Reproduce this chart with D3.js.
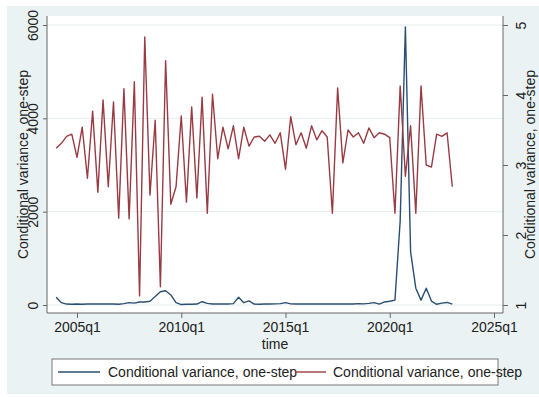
<!DOCTYPE html>
<html>
<head>
<meta charset="utf-8">
<script src="https://cdn.jsdelivr.net/npm/d3@7"></script>
<style>
  html, body { margin: 0; padding: 0; background: #ffffff; }
  svg { display: block; }
  text { font-family: "Liberation Sans", Arial, sans-serif; fill: #222; }
</style>
</head>
<body>
<svg id="chart" width="539" height="397"></svg>
<script>
// ---- data ----
const startYear = 2004;            // first observation: 2004q1
const nObs = 77;                   // 2004q1 .. 2023q1
const seriesLabels = ["Conditional variance, one-step", "Conditional variance, one-step"];
const xTickLabels = ["2005q1", "2010q1", "2015q1", "2020q1", "2025q1"];
const xTickYears = [2005, 2010, 2015, 2020, 2025];
const leftTicks = [0, 2000, 4000, 6000];
const rightTicks = [1, 2, 3, 4, 5];
const xTitle = "time";

// series 1 (left axis)
const variance1 = [165, 50, 20, 15, 20, 15, 20, 25, 20, 20,
                   25, 20, 15, 30, 50, 40, 65, 65, 80, 180,
                   285, 305, 215, 50, 10, 15, 15, 20, 70, 35,
                   20, 20, 25, 20, 30, 165, 50, 90, 20, 15,
                   20, 20, 25, 30, 50, 25, 20, 20, 20, 25,
                   20, 25, 20, 25, 20, 20, 25, 20, 30, 25,
                   35, 50, 20, 65, 80, 105, 1800, 5960, 1140, 360,
                   105, 360, 85, 15, 40, 55, 20];
// series 2 (right axis)
const variance2 = [3.24, 3.31, 3.41, 3.44, 3.11, 3.54, 2.81, 3.77, 2.61, 3.93,
                   2.69, 3.90, 2.24, 4.09, 2.23, 4.19, 1.13, 4.83, 2.57, 3.64,
                   1.26, 4.49, 2.44, 2.69, 3.70, 2.47, 3.83, 2.53, 3.97, 2.31,
                   4.01, 3.09, 3.54, 3.23, 3.56, 3.09, 3.54, 3.27, 3.40, 3.41,
                   3.34, 3.43, 3.31, 3.46, 2.94, 3.69, 3.29, 3.46, 3.24, 3.56,
                   3.36, 3.49, 3.40, 2.31, 4.10, 3.03, 3.50, 3.40, 3.46, 3.31,
                   3.53, 3.39, 3.46, 3.44, 3.39, 2.31, 4.13, 2.84, 3.56, 2.31,
                   4.13, 3.00, 2.97, 3.44, 3.41, 3.46, 2.69];

const times = d3.range(nObs).map(i => startYear + i / 4);

// ---- layout ----
const W = 539, H = 397;
const plot = { left: 47, right: 503, top: 16, bottom: 313 };
const col1 = "#2b4f72", col2 = "#9a3b43";

const svg = d3.select("#chart");

// graph region background
svg.append("rect").attr("x", 7).attr("y", 6).attr("width", W - 7).attr("height", 388)
   .attr("fill", "#eaf2f3");
// plot region
svg.append("rect").attr("x", plot.left).attr("y", plot.top)
   .attr("width", plot.right - plot.left).attr("height", plot.bottom - plot.top)
   .attr("fill", "#ffffff");

const x = d3.scaleLinear().domain([2003.561, 2025.432]).range([plot.left, plot.right]);
const yL = d3.scaleLinear().domain([-171.4, 6192.9]).range([plot.bottom, plot.top]);
const yR = d3.scaleLinear().domain([0.8857, 5.1286]).range([plot.bottom, plot.top]);

// gridlines
svg.append("g").selectAll("line").data(leftTicks).join("line")
   .attr("x1", plot.left).attr("x2", plot.right)
   .attr("y1", d => yL(d)).attr("y2", d => yL(d))
   .attr("stroke", "#e6ecee").attr("stroke-width", 1);

// lines
const line1 = d3.line().x((d, i) => x(times[i])).y(d => yL(d));
const line2 = d3.line().x((d, i) => x(times[i])).y(d => yR(d));
svg.append("path").datum(variance1).attr("d", line1)
   .attr("fill", "none").attr("stroke", col1).attr("stroke-width", 1.4)
   .attr("stroke-linejoin", "round");
svg.append("path").datum(variance2).attr("d", line2)
   .attr("fill", "none").attr("stroke", col2).attr("stroke-width", 1.4)
   .attr("stroke-linejoin", "round");

// axes
const axisCol = "#666";
function styleAxis(g) {
  g.select(".domain").remove();
  g.selectAll(".tick line").attr("stroke", axisCol);
  g.selectAll(".tick text").attr("fill", "#222").style("font-size", "14px")
   .style("font-family", "'Liberation Sans', Arial, sans-serif");
}

// bottom axis
const gx = svg.append("g").attr("transform", `translate(0,${plot.bottom})`)
  .call(d3.axisBottom(x).tickValues(xTickYears)
        .tickFormat((d, i) => xTickLabels[i]).tickSize(5).tickPadding(4));
styleAxis(gx);
gx.selectAll(".tick text").attr("dy", "0.71em");

// left axis
const gl = svg.append("g").attr("transform", `translate(${plot.left},0)`)
  .call(d3.axisLeft(yL).tickValues(leftTicks).tickSize(4).tickFormat(d3.format("d")));
styleAxis(gl);
gl.selectAll(".tick text")
  .attr("x", null).attr("dy", null)
  .attr("text-anchor", "middle")
  .attr("transform", "translate(-9,0) rotate(-90)");

// right axis
const gr = svg.append("g").attr("transform", `translate(${plot.right},0)`)
  .call(d3.axisRight(yR).tickValues(rightTicks).tickSize(5).tickFormat(d3.format("d")));
styleAxis(gr);
gr.selectAll(".tick text")
  .attr("x", null).attr("dy", null)
  .attr("text-anchor", "middle")
  .attr("transform", "translate(23,0) rotate(-90)");

// axis lines
svg.append("line").attr("x1", plot.left).attr("x2", plot.left)
   .attr("y1", plot.top).attr("y2", plot.bottom).attr("stroke", axisCol);
svg.append("line").attr("x1", plot.right).attr("x2", plot.right)
   .attr("y1", plot.top).attr("y2", plot.bottom).attr("stroke", axisCol);
svg.append("line").attr("x1", plot.left).attr("x2", plot.right)
   .attr("y1", plot.bottom).attr("y2", plot.bottom).attr("stroke", axisCol);

// axis titles
const yMid = (plot.top + plot.bottom) / 2;
svg.append("text").attr("transform", `translate(28,${yMid}) rotate(-90)`)
   .attr("text-anchor", "middle").style("font-size", "14px").text(seriesLabels[0]);
svg.append("text").attr("transform", `translate(535,${yMid}) rotate(-90)`)
   .attr("text-anchor", "middle").style("font-size", "14px").text(seriesLabels[1]);
svg.append("text").attr("x", (plot.left + plot.right) / 2).attr("y", 349)
   .attr("text-anchor", "middle").style("font-size", "14px").text(xTitle);

// legend
const lg = svg.append("g");
lg.append("rect").attr("x", 52).attr("y", 359).attr("width", 446).attr("height", 26)
  .attr("fill", "#ffffff").attr("stroke", "#777").attr("stroke-width", 1);
const legendItems = [
  { x0: 58, x1: 100, tx: 108, color: col1, label: seriesLabels[0] },
  { x0: 295, x1: 326, tx: 333, color: col2, label: seriesLabels[1] }
];
legendItems.forEach(it => {
  lg.append("line").attr("x1", it.x0).attr("x2", it.x1).attr("y1", 372).attr("y2", 372)
    .attr("stroke", it.color).attr("stroke-width", 1.4);
  lg.append("text").attr("x", it.tx).attr("y", 377).style("font-size", "14px").text(it.label);
});
</script>
</body>
</html>
